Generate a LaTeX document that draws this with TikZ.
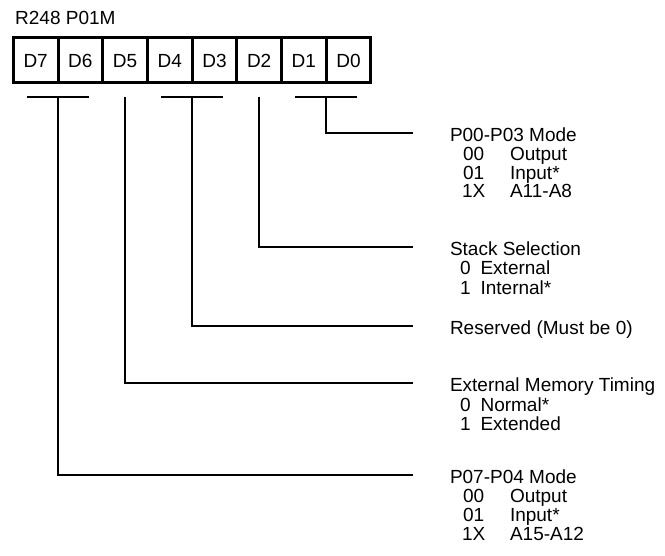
\documentclass[tikz,border=0pt]{standalone}
\usepackage{fontspec}
\setmainfont{Liberation Sans}
\usetikzlibrary{positioning}

\begin{document}
\begin{tikzpicture}[
  x=1pt, y=-1pt,
  font=\fontsize{19}{18.3}\selectfont,
  bit/.style={draw, line width=3pt, minimum width=44.7pt, minimum height=45pt,
              text height=13.6pt, text depth=0pt, inner sep=0pt, outer sep=0pt},
  lead/.style={line width=2.2pt},
  desc/.style={anchor=base west, inner sep=0pt, outer sep=0pt},
]
  \useasboundingbox (0,0) rectangle (665,556);

  \node[anchor=base west, inner sep=0pt] (reg) at (15,25) {R248 P01M};

  \node[bit] (d7) at (35.65,60.5) {D7};
  \node[bit, right=0pt of d7] (d6) {D6};
  \node[bit, right=0pt of d6] (d5) {D5};
  \node[bit, right=0pt of d5] (d4) {D4};
  \node[bit, right=0pt of d4] (d3) {D3};
  \node[bit, right=0pt of d3] (d2) {D2};
  \node[bit, right=0pt of d2] (d1) {D1};
  \node[bit, right=0pt of d1] (d0) {D0};

  \coordinate (b76) at ([yshift=-13.7pt]d7.south east);
  \coordinate (b5)  at ([yshift=-13.7pt]d5.south);
  \coordinate (b43) at ([yshift=-13.7pt]d4.south east);
  \coordinate (b2)  at ([yshift=-13.7pt]d2.south);
  \coordinate (b10) at ([yshift=-13.7pt]d1.south east);

  \draw[lead] ([xshift=-31pt]b76) -- ([xshift=31pt]b76);
  \draw[lead] ([xshift=-31pt]b43) -- ([xshift=31pt]b43);
  \draw[lead] ([xshift=-31pt]b10) -- ([xshift=31pt]b10);

  \node[desc] (p03) at (450,141.7) {%
    \begin{tabular}[t]{@{\hspace{12pt}}c@{\hspace{24.8pt}}l}
      \multicolumn{2}{@{}l}{P00-P03 Mode}\\
      00 & Output\\
      01 & Input*\\
      1X & A11-A8
    \end{tabular}};

  \node[desc] (stack) at (450,255.7) {%
    \begin{tabular}[t]{@{\hspace{10pt}}c@{\hspace{10pt}}l}
      \multicolumn{2}{@{}l}{Stack Selection}\\
      0 & External\\
      1 & Internal*
    \end{tabular}};

  \node[desc] (rsvd) at (450,335) {Reserved (Must be 0)};

  \node[desc] (timing) at (450,392) {%
    \begin{tabular}[t]{@{\hspace{10pt}}c@{\hspace{10pt}}l}
      \multicolumn{2}{@{}l}{External Memory Timing}\\
      0 & Normal*\\
      1 & Extended
    \end{tabular}};

  \node[desc] (p74) at (450,484) {%
    \begin{tabular}[t]{@{\hspace{12pt}}c@{\hspace{24.8pt}}l}
      \multicolumn{2}{@{}l}{P07-P04 Mode}\\
      00 & Output\\
      01 & Input*\\
      1X & A15-A12
    \end{tabular}};

  \draw[lead] (b10) |- ([xshift=-37pt,yshift=9pt]p03.base west);
  \draw[lead] (b2)  |- ([xshift=-37pt,yshift=9pt]stack.base west);
  \draw[lead] (b43) |- ([xshift=-37pt,yshift=9pt]rsvd.base west);
  \draw[lead] (b5)  |- ([xshift=-37pt,yshift=9pt]timing.base west);
  \draw[lead] (b76) |- ([xshift=-37pt,yshift=9pt]p74.base west);
\end{tikzpicture}
\end{document}
